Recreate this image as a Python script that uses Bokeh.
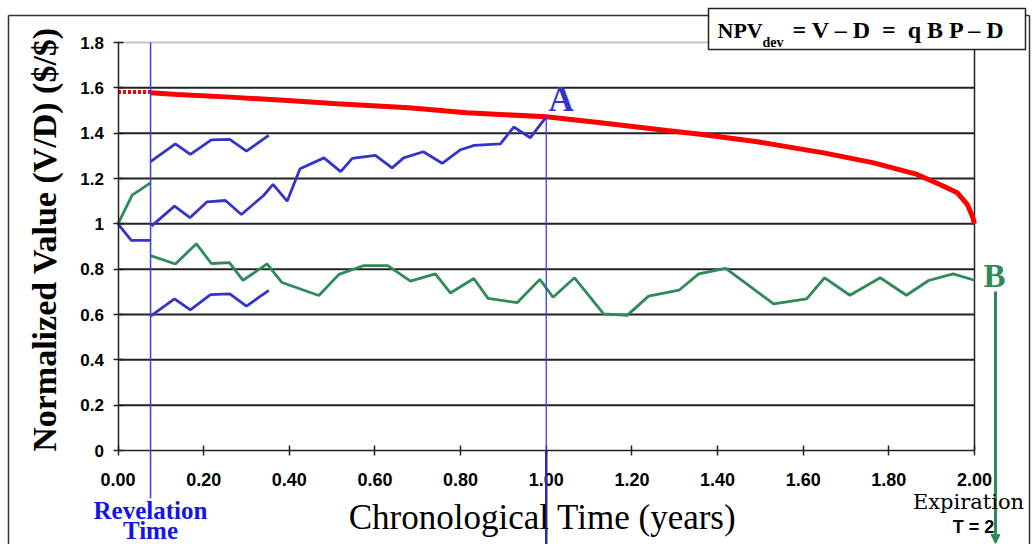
import math
from bokeh.plotting import figure
from bokeh.models import Range1d, FixedTicker, Label, Arrow, NormalHead, BoxAnnotation
from bokeh.embed import file_html
from bokeh.resources import INLINE

# ---------------- data ----------------
x_ticks = [0.0, 0.2, 0.4, 0.6, 0.8, 1.0, 1.2, 1.4, 1.6, 1.8, 2.0]
x_tick_labels = ["0.00", "0.20", "0.40", "0.60", "0.80", "1.00", "1.20", "1.40", "1.60", "1.80", "2.00"]
y_ticks = [0.0, 0.2, 0.4, 0.6, 0.8, 1.0, 1.2, 1.4, 1.6, 1.8]
y_tick_labels = ["0", "0.2", "0.4", "0.6", "0.8", "1", "1.2", "1.4", "1.6", "1.8"]

revelation_t = 0.076
expiration_t = 2.0
point_a_t = 1.0
point_a_v = 1.472

# threshold curve (red)
red_pre_t = [0.0, 0.076]
red_pre_v = [1.582, 1.582]
red_t = [0.076, 0.138, 0.263, 0.387, 0.512, 0.679, 0.815, 1.0, 1.127, 1.282, 1.36,
         1.493, 1.648, 1.765, 1.866, 1.928, 1.96, 1.983, 1.995, 2.0]
red_v = [1.578, 1.571, 1.559, 1.545, 1.530, 1.512, 1.490, 1.472, 1.446, 1.412, 1.395,
         1.362, 1.313, 1.269, 1.218, 1.166, 1.137, 1.086, 1.034, 1.0]

# blue path (reaches A)
blue_pre_t = [0.0, 0.031, 0.076]
blue_pre_v = [1.0, 0.927, 0.927]
blue_t = [0.078, 0.132, 0.168, 0.208, 0.251, 0.288, 0.340, 0.362, 0.395, 0.425, 0.481,
          0.520, 0.547, 0.601, 0.640, 0.667, 0.713, 0.757, 0.800, 0.832, 0.893, 0.924,
          0.963, 1.0]
blue_v = [0.99, 1.078, 1.027, 1.097, 1.103, 1.041, 1.125, 1.174, 1.100, 1.243, 1.291,
          1.230, 1.289, 1.302, 1.247, 1.291, 1.318, 1.267, 1.327, 1.346, 1.353, 1.427,
          1.380, 1.472]
blue_up_t = [0.076, 0.134, 0.169, 0.218, 0.261, 0.300, 0.352]
blue_up_v = [1.274, 1.353, 1.306, 1.370, 1.373, 1.321, 1.390]
blue_lo_t = [0.076, 0.132, 0.169, 0.216, 0.261, 0.300, 0.352]
blue_lo_v = [0.593, 0.669, 0.620, 0.688, 0.691, 0.637, 0.706]

# green path (reaches B)
green_pre_t = [0.0, 0.033, 0.076]
green_pre_v = [1.0, 1.127, 1.181]
green_t = [0.076, 0.134, 0.183, 0.218, 0.260, 0.292, 0.348, 0.383, 0.469, 0.516, 0.574,
           0.630, 0.683, 0.741, 0.776, 0.831, 0.864, 0.932, 0.985, 1.016, 1.066, 1.134,
           1.189, 1.239, 1.310, 1.356, 1.419, 1.531, 1.608, 1.650, 1.709, 1.780, 1.841,
           1.893, 1.950, 2.0]
green_v = [0.860, 0.823, 0.912, 0.825, 0.829, 0.751, 0.823, 0.741, 0.684, 0.777, 0.816,
           0.816, 0.747, 0.779, 0.695, 0.759, 0.671, 0.652, 0.755, 0.676, 0.762, 0.603,
           0.596, 0.681, 0.707, 0.779, 0.803, 0.647, 0.669, 0.762, 0.685, 0.762, 0.685,
           0.750, 0.779, 0.751]

# ---------------- layout (pixel geometry of the canvas) ----------------
W, H = 1036, 544
T0_PX, T2_PX = 117.5, 974.0      # canvas x of t = 0 and t = 2
V0_PX, V18_PX = 450.0, 42.0      # canvas y of value 0 and 1.8
px_x = (T2_PX - T0_PX) / 2.0
px_y = (V0_PX - V18_PX) / 1.8
BASE_SHIFT = 0.37                # measured offset of Bokeh's alphabetic baseline


def xd(cx):
    return (cx - T0_PX) / px_x


def yd(cy):
    return (V0_PX - cy) / px_y


def yb(cy, fs):
    """data y for a label whose glyph baseline should sit at canvas y = cy"""
    return yd(cy - BASE_SHIFT * fs)


BLUE = "#3434c8"
GREEN = "#2e8b57"
RED = "#ff0000"
REV_BLUE = "#3c3cf0"
GRID = "#222222"
SERIF = "Liberation Serif"
SANS = "Liberation Sans"

p = figure(width=W, height=H, x_range=Range1d(xd(0), xd(W)), y_range=Range1d(yd(H), yd(0)),
           output_backend="svg", toolbar_location=None, tools="",
           min_border_left=0, min_border_right=0, min_border_top=0, min_border_bottom=0)
p.outline_line_color = None
p.background_fill_color = "white"
p.border_fill_color = "white"
p.xgrid.visible = False
p.ygrid.visible = False

for ax, ticks, labels in ((p.xaxis[0], x_ticks, x_tick_labels),
                          (p.yaxis[0], y_ticks, y_tick_labels)):
    ax.fixed_location = 0
    ax.ticker = FixedTicker(ticks=ticks)
    ax.major_label_overrides = {t: l for t, l in zip(ticks, labels)}
    ax.axis_line_color = GRID
    ax.axis_line_width = 1.5
    ax.major_tick_line_color = GRID
    ax.major_tick_line_width = 1.5
    ax.major_tick_in = 5
    ax.major_tick_out = 5
    ax.minor_tick_line_color = None
    ax.major_label_text_font = SANS
    ax.major_label_text_font_style = "bold"
    ax.major_label_text_color = "black"

p.xaxis.bounds = (0, 2)
p.yaxis.bounds = (0, 1.8)
p.xaxis.major_label_text_font_size = "18px"
p.yaxis.major_label_text_font_size = "17px"
p.xaxis.major_label_standoff = 17
p.yaxis.major_label_standoff = 9

# ---------------- gridlines, plot border, outer frame ----------------
grid_levels = [t for t in y_ticks if 0 < t < 1.8]
p.segment(x0=[0.0] * len(grid_levels), x1=[2.0] * len(grid_levels), y0=grid_levels,
          y1=grid_levels, line_color=GRID, line_width=2)
p.segment(x0=[0.0], x1=[2.0], y0=[1.8], y1=[1.8], line_color="#c4c4c4", line_width=2)
p.segment(x0=[expiration_t], x1=[expiration_t], y0=[0.0], y1=[yd(48)],
          line_color=GRID, line_width=1.5)

for (xa, ya, xb, yb_) in ((8, 15, 1029, 15), (8, 15, 8, 545), (1029, 15, 1029, 545)):
    p.add_layout(Arrow(end=None, x_start=xd(xa), y_start=yd(ya), x_end=xd(xb), y_end=yd(yb_),
                       line_color="#333333", line_width=1.5))

# ---------------- series ----------------
p.line(red_pre_t, red_pre_v, line_color=RED, line_width=4, line_dash="3 2")
p.line(red_t, red_v, line_color=RED, line_width=5)
p.line(green_pre_t, green_pre_v, line_color=GREEN, line_width=2.8)
p.line(green_t, green_v, line_color=GREEN, line_width=2.8)
p.line(blue_pre_t, blue_pre_v, line_color=BLUE, line_width=2.8)
p.line(blue_t, blue_v, line_color=BLUE, line_width=2.8)
p.line(blue_up_t, blue_up_v, line_color=BLUE, line_width=2.8)
p.line(blue_lo_t, blue_lo_v, line_color=BLUE, line_width=2.8)

# ---------------- annotations ----------------
p.add_layout(Arrow(end=None, x_start=revelation_t, y_start=1.8, x_end=revelation_t, y_end=yd(498),
                   line_color=REV_BLUE, line_width=1.5))
p.add_layout(Arrow(end=None, x_start=point_a_t, y_start=point_a_v, x_end=point_a_t, y_end=0,
                   line_color=REV_BLUE, line_width=1.3))
p.add_layout(Arrow(end=None, x_start=point_a_t, y_start=0, x_end=point_a_t, y_end=yd(546),
                   line_color="#2a2ab0", line_width=2.5))
p.add_layout(Arrow(end=NormalHead(size=9, fill_color=GREEN, line_color=GREEN, line_width=1),
                   x_start=xd(995), y_start=yd(291), x_end=xd(995), y_end=yd(543),
                   line_color=GREEN, line_width=3))


def add_text(cx, cy, text, fs, font=SERIF, style="bold", color="black", align="left"):
    p.add_layout(Label(x=xd(cx), y=yb(cy, fs), text=text, text_font=font,
                       text_font_style=style, text_font_size=f"{fs}px", text_color=color,
                       text_align=align, text_baseline="alphabetic"))


add_text(548, 112, "A", 35, color=BLUE)
add_text(983, 288, "B", 33, color=GREEN)

p.add_layout(Label(x=xd(44), y=yd(239), text="Normalized Value (V/D) ($/$)", angle=math.pi / 2,
                   text_font=SERIF, text_font_style="bold", text_font_size="34px",
                   text_color="black", text_align="center", text_baseline="middle"))
add_text(542, 530, "Chronological Time (years)", 35, style="normal", align="center")

add_text(150, 519, "Revelation", 25, color="#1414e6", align="center")
add_text(150, 539, "Time", 25, color="#1414e6", align="center")
add_text(968, 509, "Expiration", 21, font="DejaVu Serif", style="normal", align="center")
add_text(973, 533, "T = 2", 18, font=SANS, align="center")

p.add_layout(BoxAnnotation(left=xd(708), right=xd(1025), top=yd(8), bottom=yd(49),
                           fill_color="white", fill_alpha=1.0, line_color="#222222",
                           line_width=1.5, line_alpha=1.0))
add_text(717, 38, "NPV", 22)
add_text(762, 47, "dev", 14)
add_text(792, 38, "= V \u2013 D\u00a0\u00a0=\u00a0\u00a0q B P \u2013 D", 24)

open("out.html", "w").write(file_html(p, INLINE))
